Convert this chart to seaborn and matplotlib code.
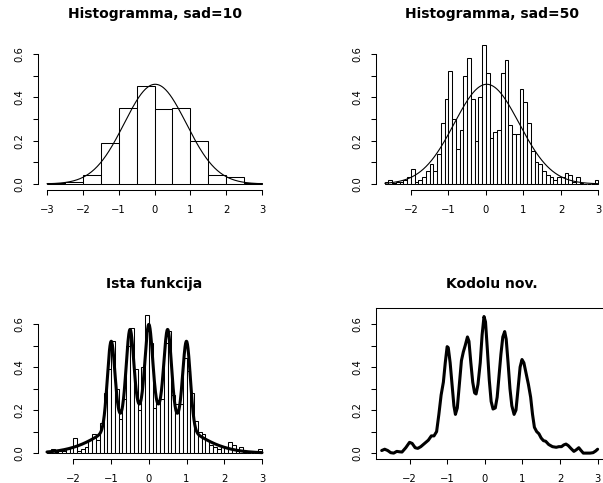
import numpy as np
import matplotlib
matplotlib.use("Agg")
import matplotlib.pyplot as plt
import seaborn as sns

# ---------------- data ----------------
# Histogram with 10 breaks (bin width 0.5, -3..3)
hist10_edges = [-3.0, -2.5, -2.0, -1.5, -1.0, -0.5, 0.0, 0.5, 1.0, 1.5, 2.0, 2.5, 3.0]
hist10_density = [0.005, 0.01, 0.04, 0.19, 0.35, 0.45, 0.345, 0.35, 0.20, 0.04, 0.03, 0.005]

# Histogram with 50 breaks (bin width 0.1, -2.7..3.0)
hist50_start = -2.7
hist50_width = 0.1
hist50_density = [0.01, 0.02, 0.005, 0.01, 0.01, 0.02, 0.03,
                  0.07, 0.01, 0.02, 0.03, 0.06, 0.09, 0.06, 0.14, 0.28, 0.39,
                  0.52, 0.30, 0.16, 0.25, 0.50, 0.58, 0.39, 0.20, 0.40, 0.64,
                  0.51, 0.21, 0.24, 0.25, 0.51, 0.57, 0.27, 0.23, 0.23, 0.44,
                  0.38, 0.28, 0.15, 0.10, 0.09, 0.06, 0.04, 0.03, 0.02, 0.03,
                  0.03, 0.05, 0.04, 0.01, 0.03, 0.005, 0.0, 0.0, 0.0, 0.02]

# fitted normal curve parameters
norm_mean = 0.02
norm_sd = 0.867

# claw density parameters (mixture)
claw_weights = [0.5, 0.1, 0.1, 0.1, 0.1, 0.1]
claw_means = [0.0, -1.0, -0.5, 0.0, 0.5, 1.0]
claw_sds = [1.0, 0.1, 0.1, 0.1, 0.1, 0.1]

# kernel density estimate
kde_x = [-2.74, -2.66, -2.58, -2.50, -2.42, -2.34, -2.26, -2.20, -2.10, -2.00,
         -1.93, -1.85, -1.78, -1.70, -1.60, -1.50, -1.42, -1.35, -1.28, -1.22,
         -1.16, -1.10, -1.05, -1.00, -0.97, -0.92, -0.87, -0.82, -0.78, -0.73,
         -0.68, -0.62, -0.57, -0.52, -0.46, -0.42, -0.37, -0.32, -0.27, -0.23,
         -0.18, -0.12, -0.07, -0.02, 0.02, 0.07, 0.12, 0.17, 0.22, 0.28,
         0.33, 0.38, 0.43, 0.48, 0.53, 0.57, 0.62, 0.67, 0.72, 0.78,
         0.83, 0.88, 0.94, 0.99, 1.04, 1.10, 1.16, 1.22, 1.27, 1.32,
         1.38, 1.44, 1.50, 1.56, 1.62, 1.70, 1.80, 1.90, 1.97, 2.04,
         2.10, 2.16, 2.22, 2.30, 2.37, 2.43, 2.50, 2.56, 2.62, 2.70,
         2.80, 2.88, 2.95, 3.00]
kde_y = [0.012, 0.018, 0.012, 0.002, 0.0, 0.008, 0.006, 0.005, 0.025, 0.05,
         0.045, 0.025, 0.022, 0.03, 0.045, 0.06, 0.08, 0.08, 0.10, 0.18,
         0.27, 0.33, 0.42, 0.495, 0.49, 0.42, 0.32, 0.22, 0.18, 0.21,
         0.31, 0.43, 0.47, 0.50, 0.54, 0.52, 0.42, 0.33, 0.28, 0.275,
         0.32, 0.42, 0.55, 0.635, 0.61, 0.48, 0.34, 0.24, 0.205, 0.21,
         0.26, 0.36, 0.46, 0.54, 0.565, 0.53, 0.42, 0.30, 0.22, 0.18,
         0.20, 0.29, 0.40, 0.435, 0.42, 0.37, 0.32, 0.26, 0.18, 0.12,
         0.10, 0.09, 0.07, 0.058, 0.055, 0.04, 0.03, 0.027, 0.03, 0.03,
         0.038, 0.042, 0.035, 0.02, 0.008, 0.015, 0.025, 0.012, 0.0, 0.0,
         0.0, 0.002, 0.01, 0.018]

titles = ["Histogramma, sad=10", "Histogramma, sad=50", "Ista funkcija", "Kodolu nov."]
y_ticks = [0.0, 0.1, 0.2, 0.3, 0.4, 0.5, 0.6]
y_labels = ["0.0", "", "0.2", "", "0.4", "", "0.6"]

# ---------------- style ----------------
sns.set_theme(style="white")
plt.rcParams["font.family"] = ["DejaVu Sans"]
plt.rcParams["axes.linewidth"] = 0.75

W, H = 603, 483
fig = plt.figure(figsize=(W / 100, H / 100), dpi=100)


def axes_px(left, top, right, bottom):
    return fig.add_axes([left / W, (H - bottom) / H, (right - left) / W, (bottom - top) / H])


ax1 = axes_px(38.4, 37.5, 270.6, 189.6)
ax2 = axes_px(376.2, 37.5, 607.0, 189.6)
ax3 = axes_px(38.4, 307.7, 270.6, 458.7)
ax4 = axes_px(376.2, 307.7, 607.0, 458.7)

YLIM = (-0.026, 0.676)


def style_axes(ax, xlim, xticks, boxed=False):
    ax.set_xlim(*xlim)
    ax.set_ylim(*YLIM)
    ax.set_xlabel("")
    ax.set_ylabel("")
    ax.set_xticks(xticks)
    ax.set_xticklabels([("\u2212" + str(abs(t)) if t < 0 else str(t)) for t in xticks])
    ax.set_yticks(y_ticks)
    ax.set_yticklabels(y_labels)
    for lab in ax.get_yticklabels():
        lab.set_rotation(90)
        lab.set_va("center")
    ax.tick_params(axis="both", which="major", direction="out", length=3.6, width=0.75,
                   color="black", labelsize=7.2, labelcolor="black")
    ax.tick_params(axis="x", pad=7.6, bottom=True)
    ax.tick_params(axis="y", pad=6.5, left=True)
    for s in ax.spines.values():
        s.set_color("black")
        s.set_linewidth(0.75)
    if boxed:
        for s in ax.spines.values():
            s.set_visible(True)
    else:
        ax.spines["top"].set_visible(False)
        ax.spines["right"].set_visible(False)
        ax.spines["bottom"].set_bounds(xticks[0], xticks[-1])
        ax.spines["left"].set_bounds(y_ticks[0], y_ticks[-1])
    ax.grid(False)
    ax.set_facecolor("white")


def title(ax, text):
    ax.set_title(text, fontsize=10, fontweight="bold", pad=14.4, color="black")


# panel 1
c10 = [(hist10_edges[i] + hist10_edges[i + 1]) / 2 for i in range(len(hist10_density))]
sns.histplot(x=c10, weights=hist10_density, bins=hist10_edges, ax=ax1, stat="count",
             color="white", edgecolor="black", linewidth=0.75, alpha=1)
xs = np.linspace(-3, 3, 300)
ys = np.exp(-0.5 * ((xs - norm_mean) / norm_sd) ** 2) / (norm_sd * np.sqrt(2 * np.pi))
sns.lineplot(x=xs, y=ys, ax=ax1, color="black", linewidth=0.8)
style_axes(ax1, (-3.24, 3.24), [-3, -2, -1, 0, 1, 2, 3])
title(ax1, titles[0])

# panels 2 and 3
n50 = len(hist50_density)
edges50 = [round(hist50_start + i * hist50_width, 2) for i in range(n50 + 1)]
c50 = [(edges50[i] + edges50[i + 1]) / 2 for i in range(n50)]
for ax in (ax2, ax3):
    sns.histplot(x=c50, weights=hist50_density, bins=edges50, ax=ax, stat="count",
                 color="white", edgecolor="black", linewidth=0.75, alpha=1)

xs2 = np.linspace(edges50[0], edges50[-1], 400)
ys2 = np.exp(-0.5 * ((xs2 - norm_mean) / norm_sd) ** 2) / (norm_sd * np.sqrt(2 * np.pi))
sns.lineplot(x=xs2, y=ys2, ax=ax2, color="black", linewidth=0.8)
style_axes(ax2, (-2.928, 3.228), [-2, -1, 0, 1, 2, 3])
title(ax2, titles[1])

xs3 = np.linspace(edges50[0], edges50[-1], 800)
ys3 = np.zeros_like(xs3)
for w, m, s in zip(claw_weights, claw_means, claw_sds):
    ys3 += w * np.exp(-0.5 * ((xs3 - m) / s) ** 2) / (s * np.sqrt(2 * np.pi))
sns.lineplot(x=xs3, y=ys3, ax=ax3, color="black", linewidth=2.2)
style_axes(ax3, (-2.928, 3.228), [-2, -1, 0, 1, 2, 3])
title(ax3, titles[2])

# panel 4
sns.lineplot(x=kde_x, y=kde_y, ax=ax4, color="black", linewidth=2.2, sort=False)
style_axes(ax4, (-2.886, 3.25), [-2, -1, 0, 1, 2, 3], boxed=True)
title(ax4, titles[3])

fig.savefig("out.png", dpi=100, facecolor="white")
